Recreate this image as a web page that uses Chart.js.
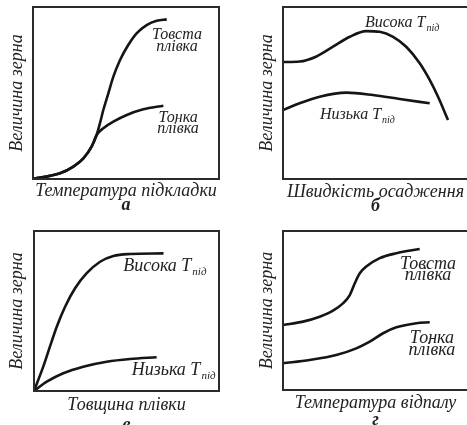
<!DOCTYPE html>
<html>
<head>
<meta charset="utf-8">
<script src="https://cdn.jsdelivr.net/npm/chart.js@4.4.0/dist/chart.umd.min.js"></script>
<style>
html, body { margin: 0; padding: 0; background: #fff; overflow: hidden; width: 467px; height: 425px; }
.panel { position: absolute; }
canvas { display: block; }
</style>
</head>
<body>
<div class="panel" style="left:0;top:0"><canvas id="chartA" width="240" height="215"></canvas></div>
<div class="panel" style="left:240px;top:0"><canvas id="chartB" width="250" height="215"></canvas></div>
<div class="panel" style="left:0;top:215px"><canvas id="chartC" width="240" height="220"></canvas></div>
<div class="panel" style="left:240px;top:215px"><canvas id="chartD" width="250" height="220"></canvas></div>
<script>
// підписи осей
const yTitle = 'Величина зерна';
const xTitles = ['Температура підкладки', 'Швидкість осадження', 'Товщина плівки', 'Температура відпалу'];
const letters = ['а', 'б', 'в', 'г'];

// а: величина зерна від температури підкладки
const aThickX = [0, 14.5, 21.7, 27.1, 31.5, 34.2, 36.0, 37.8, 40.5, 43.2, 46.8, 51.2, 55.7, 61.1, 66.5, 71.9];
const aThickY = [0, 3.3, 7.2, 12.0, 18.8, 25.6, 32.4, 40.1, 49.8, 59.5, 69.2, 77.9, 84.7, 89.5, 92.0, 92.8];
const aThinX = [0, 14.5, 21.7, 27.1, 31.5, 34.2, 37.8, 43.2, 50.4, 59.3, 70.1];
const aThinY = [0, 3.3, 7.2, 12.0, 18.8, 25.6, 29.5, 33.3, 37.2, 40.5, 42.6];

// б: від швидкості осадження
const bHighX = [0, 9.0, 17.8, 27.0, 36.1, 45.0, 52.3, 59.5, 66.6, 73.9, 79.3, 83.8, 89.2];
const bHighY = [68.0, 68.3, 71.1, 76.9, 82.7, 86.0, 85.6, 82.7, 76.9, 67.3, 57.6, 47.8, 34.3];
const bLowX = [0, 9.0, 19.8, 34.2, 48.6, 63.1, 79.3];
const bLowY = [40.1, 44.0, 47.8, 50.2, 48.8, 46.5, 44.0];

// в: від товщини плівки
const cHighX = [0, 5.0, 8.6, 12.3, 16.8, 22.2, 28.5, 35.7, 42.9, 51.9, 70.0];
const cHighY = [0, 15.2, 27.7, 40.2, 52.7, 64.2, 73.6, 80.8, 84.4, 85.6, 86.0];
const cLowX = [0, 6.9, 15.8, 26.6, 39.3, 51.9, 66.3];
const cLowY = [0, 5.8, 11.1, 15.2, 18.3, 20.0, 21.1];

// г: від температури відпалу
const dThickX = [0, 10.8, 19.8, 27.0, 32.4, 36.1, 38.8, 41.5, 45.0, 52.3, 61.3, 73.9];
const dThickY = [40.9, 43.0, 46.1, 49.9, 54.5, 59.7, 67.1, 73.4, 77.6, 82.9, 86.0, 88.7];
const dThinX = [0, 14.4, 28.8, 39.6, 46.9, 54.1, 61.3, 72.1, 79.3];
const dThinY = [16.8, 18.9, 22.0, 26.2, 30.4, 35.7, 39.4, 42.0, 42.6];

const FONT = "'Liberation Serif', 'DejaVu Serif', serif";
const INK = '#222';

function toPoints(xs, ys) {
    return xs.map((x, i) => ({ x: x, y: ys[i] }));
}

// рамка і підписи кривих
const framePlugin = {
    id: 'frame',
    afterDatasetsDraw(chart, args, opts) {
        const { ctx, chartArea: a, scales } = chart;
        ctx.save();
        ctx.strokeStyle = '#2b2b2b';
        ctx.lineWidth = 2;
        ctx.strokeRect(a.left, a.top, a.right - a.left, a.bottom - a.top);
        ctx.fillStyle = INK;
        ctx.textBaseline = 'alphabetic';
        (opts.labels || []).forEach(l => {
            const px = scales.x.getPixelForValue(l.x);
            const py = scales.y.getPixelForValue(l.y);
            ctx.font = `italic ${opts.size}px ${FONT}`;
            ctx.textAlign = l.align || 'center';
            ctx.fillText(l.text, px, py);
            if (l.sub) {
                const w = ctx.measureText(l.text).width;
                ctx.font = `italic ${Math.round(opts.size * 0.6)}px ${FONT}`;
                ctx.textAlign = 'left';
                ctx.fillText(l.sub, px + w + 1, py + 4);
            }
        });
        ctx.restore();
    }
};

// g: положення рамки і підписів у пікселях канви
function makePanel(id, i, series, labels, labelSize, g) {
    const canvas = document.getElementById(id);
    const L = 10;
    const m = (g.xTitleY + g.letterY) / 2;
    const xpb = m - L / 2 - g.xTitleY;
    const ypt = g.yTitleX - L / 2;
    return new Chart(canvas, {
        type: 'line',
        data: {
            datasets: series.map(s => ({
                data: toPoints(s[0], s[1]),
                borderColor: '#151515',
                borderWidth: 2.6,
                pointRadius: 0,
                cubicInterpolationMode: 'monotone',
                fill: false
            }))
        },
        options: {
            responsive: false,
            animation: false,
            events: [],
            layout: {
                autoPadding: false,
                padding: { left: 0, top: g.t, right: canvas.width - g.r, bottom: 0 }
            },
            plugins: {
                legend: { display: false },
                tooltip: { enabled: false },
                title: {
                    display: true,
                    position: 'bottom',
                    fullSize: false,
                    text: letters[i],
                    color: INK,
                    font: { family: FONT, size: 18, style: 'italic', weight: 'bold', lineHeight: L + 'px' },
                    padding: { top: g.letterY - m - L / 2, bottom: canvas.height - m - L - (g.letterY - m - L / 2) }
                },
                frame: { labels: labels, size: labelSize }
            },
            scales: {
                x: {
                    type: 'linear', min: 0, max: 100,
                    grid: { display: false, drawTicks: false },
                    border: { display: false },
                    ticks: { display: false },
                    title: {
                        display: true, text: xTitles[i], color: INK,
                        font: { family: FONT, size: 18, style: 'italic', lineHeight: L + 'px' },
                        padding: { top: m - g.b - L - xpb, bottom: xpb }
                    }
                },
                y: {
                    min: 0, max: 100,
                    grid: { display: false, drawTicks: false },
                    border: { display: false },
                    ticks: { display: false },
                    title: {
                        display: true, text: yTitle, color: INK,
                        font: { family: FONT, size: 18, style: 'italic', lineHeight: L + 'px' },
                        padding: { top: ypt, bottom: g.l - L - ypt }
                    }
                }
            }
        },
        plugins: [framePlugin]
    });
}

makePanel('chartA', 0, [[aThickX, aThickY], [aThinX, aThinY]], [
    { text: 'Товста', x: 77.4, y: 81.4 },
    { text: 'плівка', x: 77.4, y: 74.4 },
    { text: 'Тонка', x: 78, y: 33.1 },
    { text: 'плівка', x: 78, y: 26.7 }
], 16, { l: 33, t: 7, r: 219, b: 179, yTitleX: 17.5, xTitleY: 191, letterY: 205 });

makePanel('chartB', 1, [[bHighX, bHighY], [bLowX, bLowY]], [
    { text: 'Висока T', sub: 'під', x: 44.3, y: 88.4, align: 'left' },
    { text: 'Низька T', sub: 'під', x: 20, y: 34.9, align: 'left' }
], 16, { l: 43, t: 7, r: 228, b: 179, yTitleX: 27, xTitleY: 192, letterY: 206 });

makePanel('chartC', 2, [[cHighX, cHighY], [cLowX, cLowY]], [
    { text: 'Висока T', sub: 'під', x: 48.3, y: 75, align: 'left' },
    { text: 'Низька T', sub: 'під', x: 52.8, y: 9.8, align: 'left' }
], 18, { l: 34, t: 16, r: 219, b: 176, yTitleX: 17.5, xTitleY: 190, letterY: 210 });

makePanel('chartD', 3, [[dThickX, dThickY], [dThinX, dThinY]], [
    { text: 'Товста', x: 78.4, y: 76.3 },
    { text: 'плівка', x: 78.4, y: 69 },
    { text: 'Тонка', x: 80.5, y: 29.8 },
    { text: 'плівка', x: 80.5, y: 22.2 }
], 18, { l: 43, t: 16, r: 228, b: 175, yTitleX: 27, xTitleY: 188.5, letterY: 205 });
</script>
</body>
</html>
